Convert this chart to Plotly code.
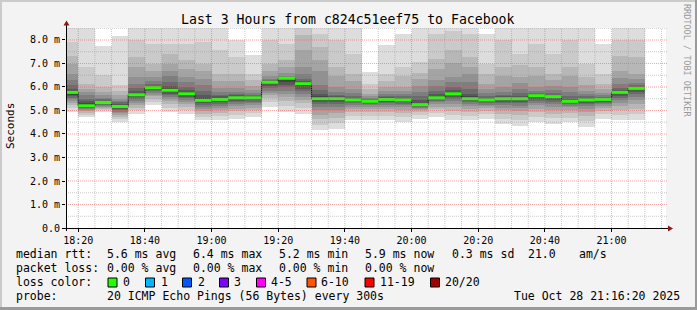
import plotly.graph_objects as go
import pandas as pd

# ---------------- data ----------------
# each value covers the 5 minutes ending at col_end
col_end = pd.date_range("2025-10-28 18:20", "2025-10-28 21:10", freq="5min")

median_ms = [5.77, 5.20, 5.34, 5.17, 5.67, 5.97, 5.86, 5.71, 5.43, 5.47, 5.54, 5.54,
             6.20, 6.37, 6.14, 5.50, 5.50, 5.45, 5.39, 5.47, 5.45, 5.25, 5.54, 5.71,
             5.50, 5.45, 5.50, 5.50, 5.63, 5.59, 5.39, 5.45, 5.47, 5.77, 5.94]

# sorted pings, upper half: ping20 .. ping11 (ms)
ping_hi = [
    [8.9, 7.91, 7.34, 6.99, 6.56, 6.28, 6.07, 5.93, 5.85, 5.80],
    [8.9, 6.85, 6.14, 5.92, 5.78, 5.64, 5.50, 5.40, 5.31, 5.23],
    [7.73, 6.49, 6.00, 5.78, 5.64, 5.54, 5.47, 5.41, 5.38, 5.36],
    [8.15, 6.07, 5.85, 5.64, 5.50, 5.42, 5.35, 5.29, 5.23, 5.19],
    [8.9, 7.98, 7.27, 6.85, 6.42, 6.14, 5.95, 5.82, 5.75, 5.70],
    [8.9, 7.84, 6.99, 6.70, 6.42, 6.25, 6.13, 6.06, 6.02, 5.99],
    [8.9, 7.84, 7.41, 6.99, 6.70, 6.45, 6.22, 6.05, 5.95, 5.88],
    [8.9, 7.84, 7.13, 6.78, 6.42, 6.20, 6.00, 5.86, 5.78, 5.73],
    [8.9, 7.91, 6.99, 6.70, 6.35, 6.10, 5.85, 5.68, 5.55, 5.46],
    [8.9, 7.56, 6.56, 6.25, 5.95, 5.80, 5.68, 5.60, 5.53, 5.49],
    [8.01, 7.27, 6.56, 6.25, 5.95, 5.80, 5.70, 5.64, 5.59, 5.56],
    [7.38, 6.56, 6.30, 6.05, 5.88, 5.76, 5.68, 5.63, 5.59, 5.56],
    [8.9, 7.98, 6.99, 6.70, 6.45, 6.34, 6.28, 6.24, 6.22, 6.21],
    [8.9, 7.84, 7.13, 6.85, 6.58, 6.48, 6.43, 6.40, 6.39, 6.38],
    [8.9, 8.55, 8.20, 7.56, 6.85, 6.55, 6.35, 6.24, 6.18, 6.15],
    [8.9, 8.26, 7.70, 7.13, 6.70, 6.10, 5.88, 5.72, 5.60, 5.53],
    [8.9, 7.98, 6.85, 6.45, 6.00, 5.80, 5.68, 5.60, 5.55, 5.52],
    [8.9, 7.41, 6.56, 6.25, 5.90, 5.75, 5.63, 5.55, 5.50, 5.47],
    [6.62, 6.14, 5.92, 5.72, 5.60, 5.52, 5.47, 5.43, 5.41, 5.40],
    [7.77, 6.56, 6.25, 6.00, 5.82, 5.70, 5.62, 5.56, 5.52, 5.49],
    [8.26, 6.85, 6.45, 6.00, 5.82, 5.70, 5.60, 5.54, 5.50, 5.47],
    [8.9, 7.06, 6.60, 6.35, 6.05, 5.80, 5.62, 5.45, 5.33, 5.27],
    [8.9, 8.26, 7.20, 6.75, 6.28, 6.05, 5.85, 5.72, 5.62, 5.56],
    [8.9, 8.40, 7.56, 7.00, 6.42, 6.20, 6.00, 5.86, 5.77, 5.73],
    [8.9, 8.26, 7.27, 6.85, 6.56, 6.20, 5.90, 5.72, 5.60, 5.53],
    [8.24, 6.99, 6.55, 6.14, 5.92, 5.75, 5.62, 5.54, 5.49, 5.47],
    [8.9, 7.98, 6.85, 6.45, 6.00, 5.80, 5.68, 5.60, 5.55, 5.52],
    [8.9, 7.41, 6.95, 6.42, 6.15, 5.90, 5.74, 5.62, 5.55, 5.52],
    [8.9, 7.84, 6.85, 6.45, 6.00, 5.82, 5.74, 5.69, 5.66, 5.64],
    [8.9, 7.41, 6.56, 6.30, 6.05, 5.88, 5.75, 5.67, 5.62, 5.60],
    [8.9, 7.98, 6.85, 6.45, 6.00, 5.80, 5.62, 5.50, 5.44, 5.41],
    [8.9, 6.99, 6.42, 6.10, 5.85, 5.70, 5.60, 5.53, 5.49, 5.47],
    [7.84, 6.56, 6.14, 5.92, 5.76, 5.65, 5.58, 5.53, 5.50, 5.48],
    [8.9, 7.98, 7.34, 6.70, 6.40, 6.14, 5.95, 5.86, 5.81, 5.78],
    [8.9, 7.98, 7.27, 6.56, 6.35, 6.18, 6.07, 6.00, 5.97, 5.95],
]

# sorted pings, lower half: ping1 .. ping10 (ms)
ping_lo = [
    [4.95, 5.10, 5.22, 5.32, 5.40, 5.48, 5.55, 5.62, 5.68, 5.74],
    [4.72, 4.82, 4.90, 4.96, 5.01, 5.05, 5.09, 5.12, 5.15, 5.18],
    [4.93, 5.00, 5.06, 5.11, 5.16, 5.20, 5.24, 5.27, 5.30, 5.32],
    [4.50, 4.62, 4.72, 4.80, 4.88, 4.95, 5.01, 5.06, 5.11, 5.15],
    [4.86, 5.00, 5.12, 5.23, 5.33, 5.42, 5.50, 5.56, 5.61, 5.65],
    [5.22, 5.38, 5.50, 5.60, 5.68, 5.75, 5.81, 5.86, 5.90, 5.94],
    [4.95, 5.12, 5.27, 5.40, 5.50, 5.59, 5.66, 5.72, 5.77, 5.82],
    [4.85, 5.00, 5.14, 5.26, 5.36, 5.44, 5.52, 5.58, 5.63, 5.68],
    [4.58, 4.72, 4.85, 4.97, 5.08, 5.17, 5.25, 5.31, 5.36, 5.40],
    [4.58, 4.75, 4.90, 5.02, 5.12, 5.21, 5.29, 5.35, 5.40, 5.44],
    [4.65, 4.82, 4.96, 5.08, 5.18, 5.27, 5.35, 5.42, 5.47, 5.51],
    [4.72, 4.88, 5.01, 5.12, 5.22, 5.30, 5.37, 5.43, 5.48, 5.52],
    [5.14, 5.35, 5.52, 5.65, 5.76, 5.85, 5.95, 6.04, 6.11, 6.17],
    [4.93, 5.20, 5.42, 5.58, 5.71, 5.85, 5.98, 6.10, 6.22, 6.32],
    [4.86, 5.10, 5.30, 5.45, 5.57, 5.70, 5.82, 5.93, 6.03, 6.10],
    [4.15, 4.40, 4.62, 4.82, 5.00, 5.14, 5.26, 5.35, 5.42, 5.47],
    [4.22, 4.48, 4.70, 4.88, 5.03, 5.16, 5.27, 5.36, 5.42, 5.47],
    [4.58, 4.76, 4.92, 5.05, 5.15, 5.23, 5.30, 5.35, 5.39, 5.42],
    [4.58, 4.78, 4.94, 5.06, 5.15, 5.22, 5.28, 5.32, 5.35, 5.37],
    [4.58, 4.78, 4.94, 5.06, 5.16, 5.24, 5.31, 5.36, 5.41, 5.44],
    [4.50, 4.72, 4.90, 5.04, 5.14, 5.22, 5.29, 5.35, 5.39, 5.42],
    [4.65, 4.80, 4.92, 5.00, 5.07, 5.12, 5.16, 5.19, 5.21, 5.23],
    [4.72, 4.90, 5.05, 5.17, 5.27, 5.35, 5.42, 5.47, 5.50, 5.52],
    [4.58, 4.80, 4.98, 5.14, 5.28, 5.40, 5.50, 5.58, 5.64, 5.68],
    [4.58, 4.78, 4.95, 5.08, 5.18, 5.27, 5.35, 5.41, 5.45, 5.48],
    [4.65, 4.84, 4.98, 5.09, 5.18, 5.25, 5.31, 5.36, 5.40, 5.43],
    [4.43, 4.65, 4.85, 5.00, 5.12, 5.22, 5.30, 5.37, 5.43, 5.47],
    [4.36, 4.60, 4.80, 4.96, 5.10, 5.21, 5.30, 5.38, 5.44, 5.48],
    [4.50, 4.72, 4.92, 5.08, 5.22, 5.33, 5.42, 5.50, 5.56, 5.60],
    [4.43, 4.66, 4.86, 5.03, 5.17, 5.29, 5.38, 5.46, 5.52, 5.56],
    [4.50, 4.70, 4.88, 5.02, 5.13, 5.21, 5.27, 5.32, 5.35, 5.37],
    [4.30, 4.55, 4.76, 4.93, 5.07, 5.18, 5.27, 5.34, 5.39, 5.42],
    [4.65, 4.84, 4.99, 5.11, 5.20, 5.27, 5.33, 5.38, 5.42, 5.45],
    [4.58, 4.82, 5.02, 5.19, 5.33, 5.45, 5.55, 5.63, 5.69, 5.74],
    [4.58, 4.85, 5.08, 5.28, 5.44, 5.58, 5.70, 5.79, 5.86, 5.91],
]

y_tick_vals = [0, 1, 2, 3, 4, 5, 6, 7, 8]
y_tick_text = ["0.0", "1.0 m", "2.0 m", "3.0 m", "4.0 m", "5.0 m", "6.0 m", "7.0 m", "8.0 m"]

title_text = "Last 3 Hours from c824c51eef75 to Facebook"
legend_rtt = [("median rtt:", 16), ("5.6 ms avg", 107), ("6.4 ms max", 193),
              ("5.2 ms min", 279), ("5.9 ms now", 365), ("0.3 ms sd", 452),
              ("21.0", 528), ("am/s", 579)]
legend_loss = [("packet loss:", 16), ("0.00 % avg", 107), ("0.00 % max", 193),
               ("0.00 % min", 279), ("0.00 % now", 365)]
loss_labels = ["0", "1", "2", "3", "4-5", "6-10", "11-19", "20/20"]
loss_colors = ["#26ff00", "#00b8ff", "#0059ff", "#7e00ff", "#ff00ff", "#ff5500", "#ff0000", "#a10000"]
loss_box_x = [108, 145.5, 182.5, 219.5, 256.5, 307, 365, 430.5]
loss_text_x = [123, 161, 197.5, 234, 271, 321, 380, 445]
probe_text = "20 ICMP Echo Pings (56 Bytes) every 300s"
stamp_text = "Tue Oct 28 21:16:20 2025"

# ---------------- layout geometry ----------------
W, H = 697, 310
L, R, T, B = 66, 31, 28, 82
PW, PH = W - L - R, H - T - B


def px(x):
    return (x - L) / PW


def py(y):
    return (H - B - y) / PH


MONO = "DejaVu Sans Mono"
step = pd.Timedelta(minutes=5)
col_start = col_end - step
col_mid = col_end - step / 2
t0 = pd.Timestamp("2025-10-28 18:16:20")
t1 = pd.Timestamp("2025-10-28 21:16:20")

fig = go.Figure()

# smoke: band i spans ping(i+1) .. ping(20-i)
n_half = 10
for i in range(n_half):
    g = int(190 / n_half * (n_half - (i + 1))) + 50
    lows = [ping_lo[c][i] for c in range(len(col_end))]
    highs = [ping_hi[c][i] for c in range(len(col_end))]
    fig.add_trace(go.Bar(
        x=col_mid, base=lows, y=[h - l for h, l in zip(highs, lows)],
        width=step.total_seconds() * 1000,
        marker=dict(color=f"rgb({g},{g},{g})", line=dict(width=0)),
        hoverinfo="skip", showlegend=False))

# dark step line of the median
fig.add_trace(go.Scatter(
    x=list(col_start) + [col_end[-1]], y=median_ms + [median_ms[-1]],
    mode="lines", line=dict(color="#202020", width=1, shape="hv"),
    hoverinfo="skip", showlegend=False))

# green median segments
gx, gy = [], []
for s, e, m in zip(col_start, col_end, median_ms):
    gx += [s, e, None]
    gy += [m, m, None]
fig.add_trace(go.Scatter(x=gx, y=gy, mode="lines",
                         line=dict(color="#26ff00", width=3),
                         hoverinfo="skip", showlegend=False))

shapes = []
# grid above the smoke
yv = 0.5
while yv <= 8.51:
    major = abs(yv - round(yv)) < 1e-9
    shapes.append(dict(type="line", xref="paper", yref="y", x0=0, x1=1.003, y0=yv, y1=yv,
                       layer="above",
                       line=dict(color="rgba(240,90,90,0.55)" if major else "rgba(150,150,150,0.5)",
                                 width=1, dash="1px,1px")))
    yv += 0.5
tv = pd.Timestamp("2025-10-28 18:20")
while tv < t1:
    major = tv.minute % 20 == 0
    shapes.append(dict(type="line", xref="x", yref="paper", x0=tv, x1=tv, y0=0, y1=1,
                       layer="above",
                       line=dict(color="rgba(240,90,90,0.55)" if major else "rgba(150,150,150,0.5)",
                                 width=1, dash="1px,1px")))
    tv += step

# axes with arrows
shapes.append(dict(type="line", xref="paper", yref="paper", x0=px(66.5), x1=px(66.5),
                   y0=py(231), y1=py(25), layer="above", line=dict(color="black", width=1)))
shapes.append(dict(type="line", xref="paper", yref="paper", x0=px(62), x1=px(669),
                   y0=py(228.5), y1=py(228.5), layer="above", line=dict(color="black", width=1)))
shapes.append(dict(type="path", xref="paper", yref="paper", layer="above",
                   path=f"M {px(63.5)},{py(25.5)} L {px(69.5)},{py(25.5)} L {px(66.5)},{py(20.5)} Z",
                   fillcolor="#8b1a1a", line=dict(width=0)))
shapes.append(dict(type="path", xref="paper", yref="paper", layer="above",
                   path=f"M {px(668)},{py(225.5)} L {px(668)},{py(231.5)} L {px(673)},{py(228.5)} Z",
                   fillcolor="#8b1a1a", line=dict(width=0)))

# frame shading
shapes.append(dict(type="rect", xref="paper", yref="paper", x0=px(0), x1=px(W), y0=py(0), y1=py(2),
                   fillcolor="#cbcbcb", line=dict(width=0), layer="above"))
shapes.append(dict(type="rect", xref="paper", yref="paper", x0=px(0), x1=px(2), y0=py(0), y1=py(H),
                   fillcolor="#cbcbcb", line=dict(width=0), layer="above"))
shapes.append(dict(type="rect", xref="paper", yref="paper", x0=px(0), x1=px(W), y0=py(H - 3), y1=py(H),
                   fillcolor="#9a9a9a", line=dict(width=0), layer="above"))
shapes.append(dict(type="rect", xref="paper", yref="paper", x0=px(W - 2), x1=px(W), y0=py(0), y1=py(H),
                   fillcolor="#9a9a9a", line=dict(width=0), layer="above"))

# loss colour boxes
for bx, col in zip(loss_box_x, loss_colors):
    shapes.append(dict(type="rect", xref="paper", yref="paper", x0=px(bx), x1=px(bx + 9),
                       y0=py(278), y1=py(287), fillcolor=col,
                       line=dict(color="black", width=1), layer="above"))

ann = []


def text(t, x, y, size=11.5, anchor="left", color="black", angle=0, family=MONO):
    ann.append(dict(text=t, x=px(x), y=py(y), xref="paper", yref="paper",
                    xanchor=anchor, yanchor="middle", showarrow=False,
                    borderpad=0, borderwidth=0, textangle=angle,
                    font=dict(family=family, size=size, color=color)))


text(title_text, 348, 19, size=13.2, anchor="center")
text("Seconds", 10, 126, size=11, anchor="center", angle=-90)
text("RRDTOOL / TOBI OETIKER", 687, 60, size=8.5, anchor="center", angle=90, color="#9a9a9a")
for t, x in legend_rtt:
    text(t, x, 254)
for t, x in legend_loss:
    text(t, x, 268)
text("loss color:", 16, 282)
for t, x in zip(loss_labels, loss_text_x):
    text(t, x, 282)
text("probe:", 16, 296)
text(probe_text, 107, 296)
text(stamp_text, 680, 296, anchor="right")

fig.update_layout(
    width=W, height=H,
    margin=dict(l=L, r=R, t=T, b=B, pad=0),
    paper_bgcolor="#f3f3f3", plot_bgcolor="#ffffff",
    barmode="overlay", bargap=0,
    showlegend=False,
    shapes=shapes, annotations=ann,
    xaxis=dict(type="date", range=[t0, t1], showgrid=False, zeroline=False, showline=False,
               tickmode="linear", tick0="2025-10-28 18:20", dtick=20 * 60 * 1000,
               tickformat="%H:%M", ticks="outside", ticklen=3, tickcolor="black",
               tickfont=dict(family=MONO, size=10, color="black")),
    yaxis=dict(range=[0, 8.51], showgrid=False, zeroline=False, showline=False,
               tickmode="array", tickvals=y_tick_vals, ticktext=y_tick_text,
               ticks="outside", ticklen=3, tickcolor="black",
               tickfont=dict(family=MONO, size=10, color="black")),
)

fig.write_html("out.html")
